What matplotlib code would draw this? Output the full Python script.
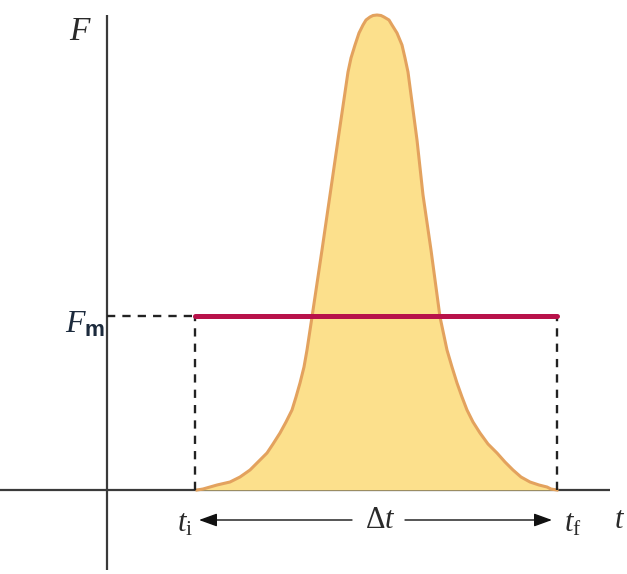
import matplotlib.pyplot as plt

plt.rcParams['mathtext.fontset'] = 'custom'
plt.rcParams['mathtext.rm'] = 'Liberation Serif'
plt.rcParams['mathtext.it'] = 'Liberation Serif:italic'
plt.rcParams['mathtext.bf'] = 'Liberation Sans:bold'

# force pulse (t, F), origin at the axes crossing
puls_t = [90, 96, 103, 110, 123, 133, 143, 151, 160, 166, 173, 179, 185, 189, 193,
          197, 200, 205, 215, 223, 231, 241, 244, 248, 252, 256, 259, 263, 266, 270,
          274, 277, 282, 285, 290, 295, 298, 301, 310, 316, 324, 333, 340, 345, 350,
          355, 360, 366, 373, 381, 390, 398, 406, 414, 423, 432, 440, 444, 450]
puls_F = [0, 1, 3, 5, 8, 13, 20, 28, 37, 46, 57, 68, 80, 93, 107,
          123, 140, 173, 240, 295, 350, 418, 432, 445, 457, 465, 470, 473, 474.5, 475,
          474.5, 473, 470, 465, 457, 445, 432, 418, 350, 295, 240, 173, 140, 123, 107,
          93, 80, 68, 57, 46, 37, 28, 20, 13, 8, 5, 3, 1, 0]

t_i = 88
t_f = 450
F_m = 174

fig = plt.figure(figsize=(6.27, 5.74), dpi=100)
ax = fig.add_axes([0, 0, 1, 1])
ax.set_xlim(-107, 520)
ax.set_ylim(-84, 490)
ax.axis('off')

# osie
ax.plot([0, 0], [-80, 475], color='#3a3a3a', lw=1.6, solid_capstyle='butt')
ax.plot([-107, 503], [0, 0], color='#3a3a3a', lw=1.6, solid_capstyle='butt')

# impuls sily
ax.fill_between(puls_t, puls_F, 0, color='#fce08c', lw=0, zorder=2)
ax.plot(puls_t, puls_F, color='#e3a25e', lw=2.2, zorder=3, solid_joinstyle='round')

# linie przerywane
kw = dict(color='#222222', lw=1.7, dashes=(3.5, 3), zorder=4)
ax.plot([0, t_i], [F_m, F_m], **kw)
ax.plot([t_i, t_i], [0, F_m], **kw)
ax.plot([t_f, t_f], [0, F_m], **kw)

# sila srednia
ax.plot([t_i, t_f], [F_m, F_m], color='#b8124a', lw=3.6, solid_capstyle='round', zorder=5)

# strzalki
y_arr = -30
ak = dict(arrowstyle='-|>,head_length=1.1,head_width=0.4', color='#111111', lw=1.0,
          shrinkA=0, shrinkB=0)
ax.annotate('', xy=(t_i + 4, y_arr), xytext=(245, y_arr), arrowprops=ak)
ax.annotate('', xy=(t_f - 5, y_arr), xytext=(298, y_arr), arrowprops=ak)

# opisy
tc = '#2a2a2a'
ax.text(-27, 460, r'$F$', fontsize=24, color=tc, ha='center', va='center')
ax.text(-22, 166, r'$F_{\mathbf{m}}$', fontsize=23, color='#1c2a3c', ha='center', va='center')
ax.text(t_i - 10, -33, r'$t_{\mathrm{i}}$', fontsize=22, color=tc, ha='center', va='center')
ax.text(t_f + 16, -33, r'$t_{\mathrm{f}}$', fontsize=22, color=tc, ha='center', va='center')
ax.text(273, -30, r'$\Delta t$', fontsize=22, color=tc, ha='center', va='center')
ax.text(513, -30, r'$t$', fontsize=22, color=tc, ha='center', va='center')

fig.savefig('out.png', dpi=100)
